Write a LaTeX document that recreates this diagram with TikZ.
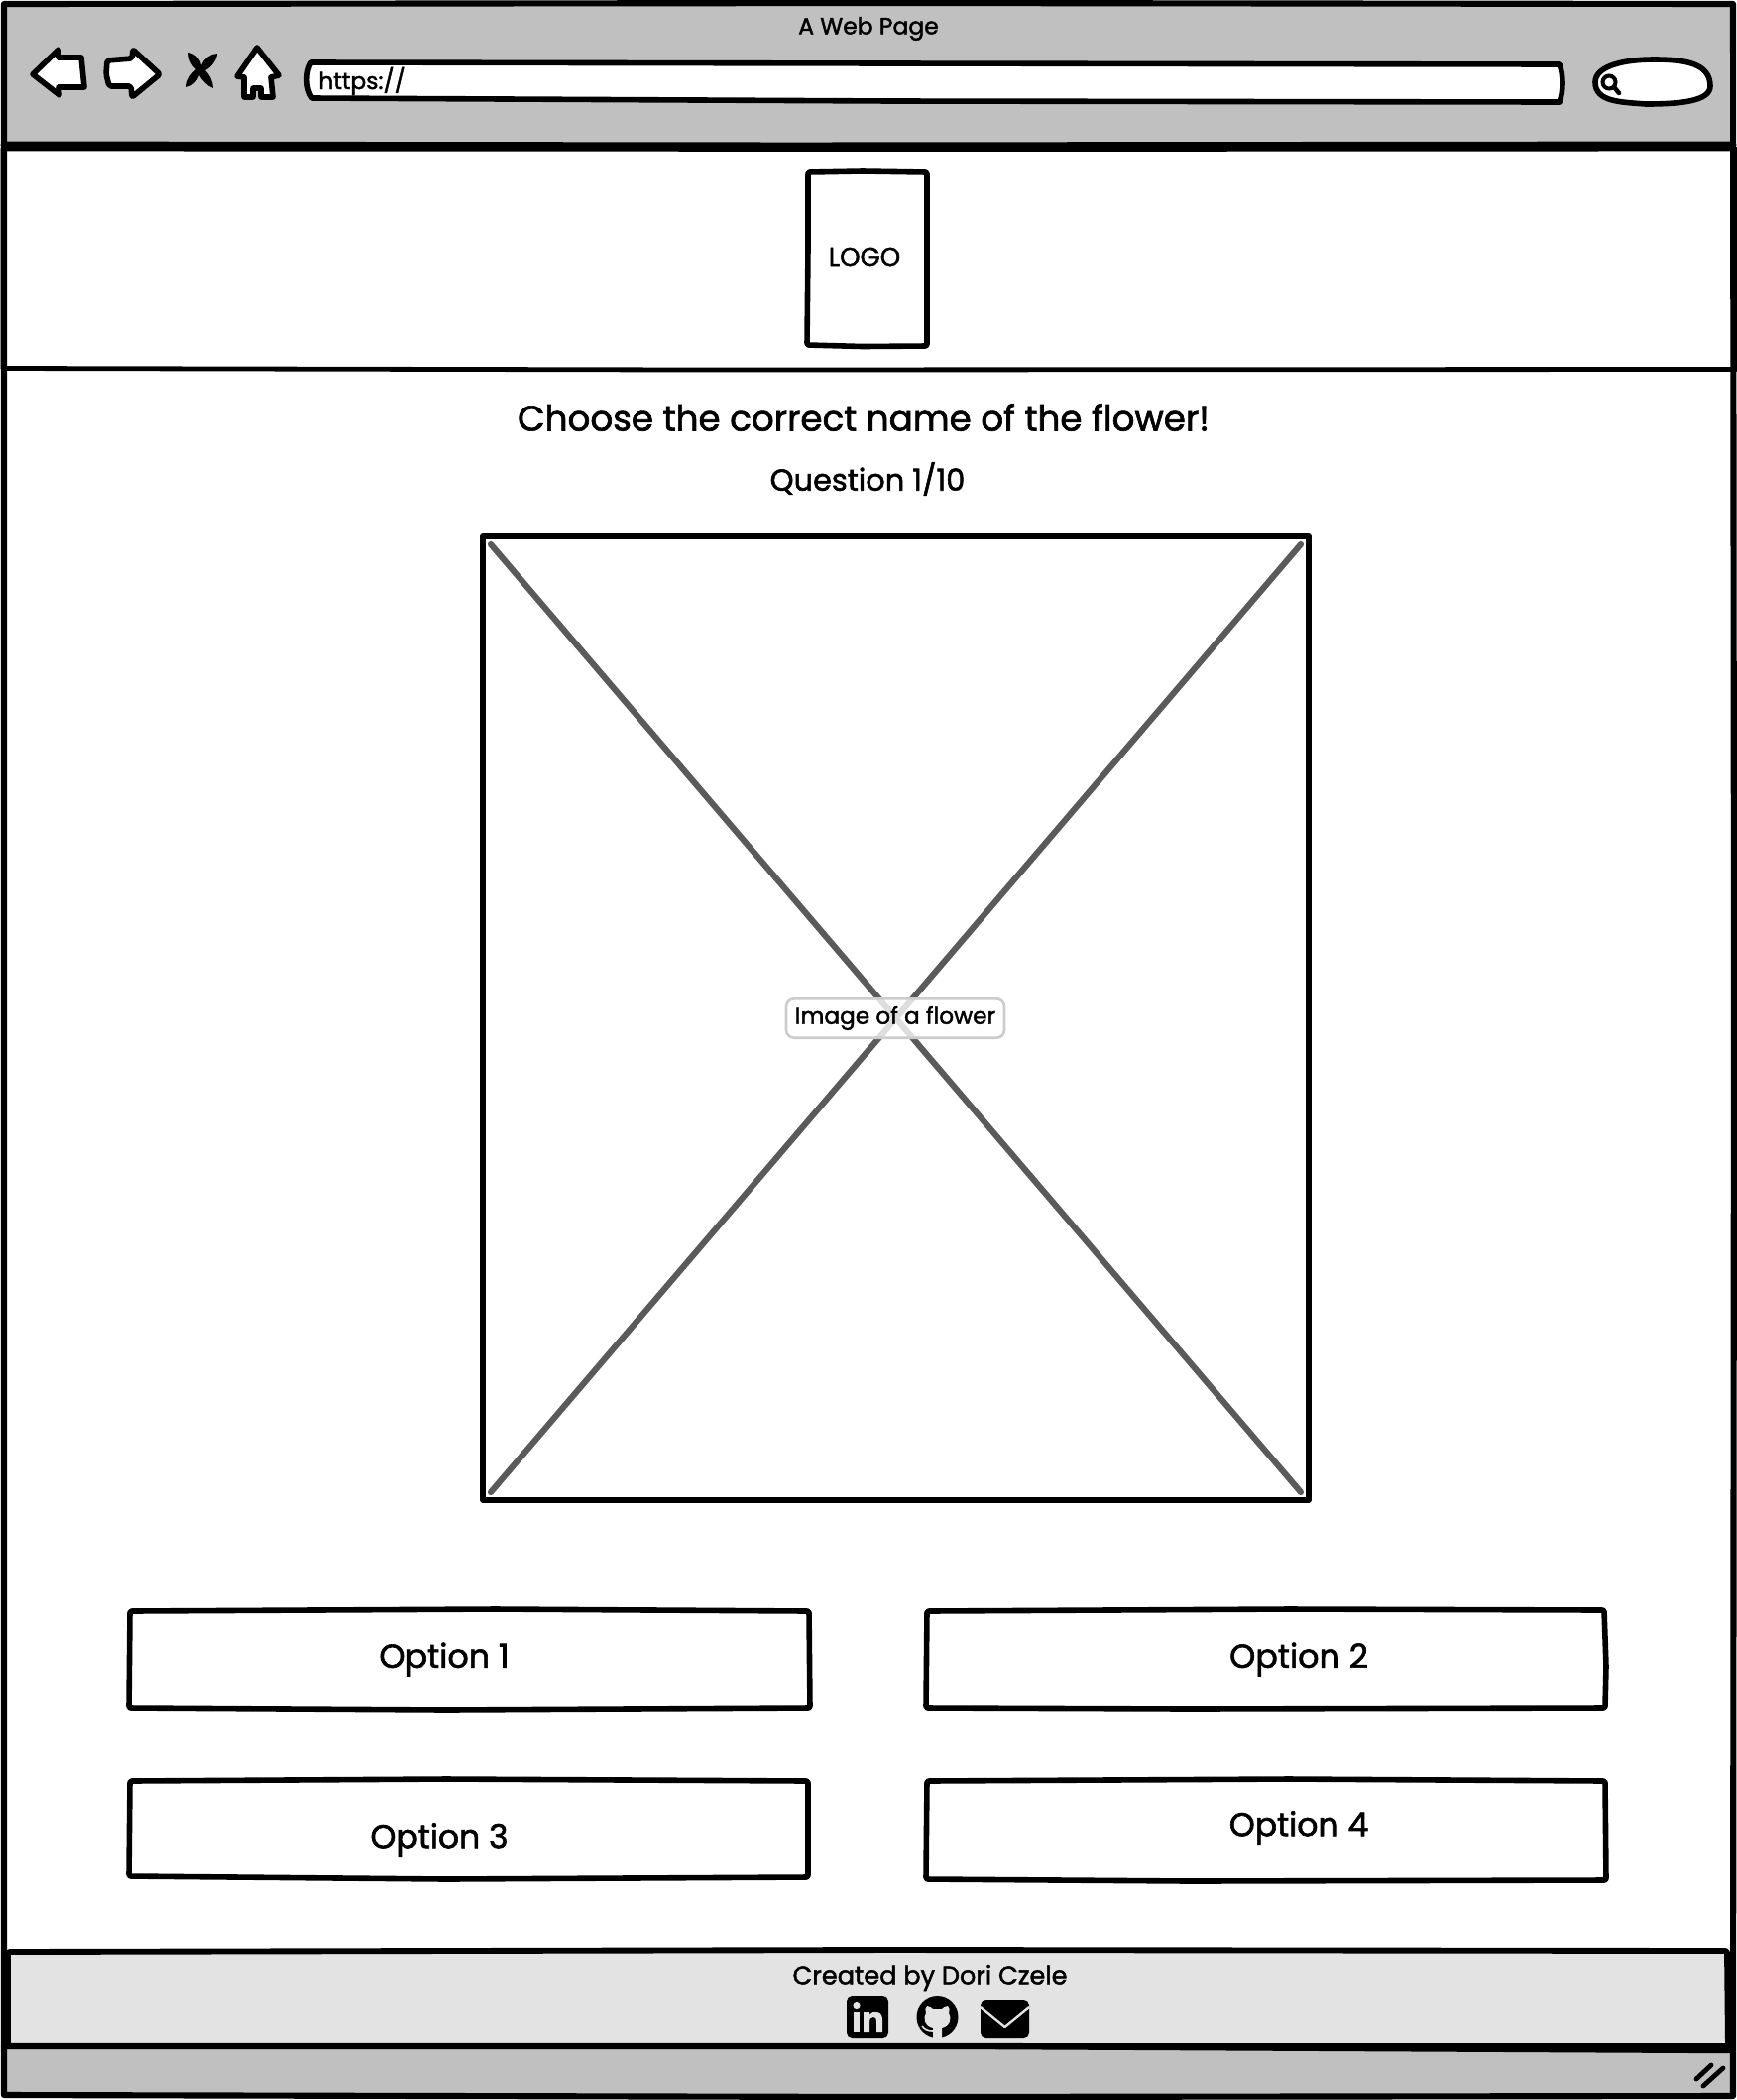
\documentclass[tikz,border=0pt]{standalone}
\usepackage{fontspec}
\setmainfont{Poppins}[RawFeature={embolden=1.8}]
\tikzset{
  x=0.75pt,y=-0.75pt,
  ink/.style={draw=black,line width=4.2pt,line join=round,line cap=round},
  lbl/.style={inner sep=0pt,text=black,font=\fontsize{#1}{#1}\selectfont},
}
\definecolor{barGray}{HTML}{C0C0C0}
\definecolor{footGray}{HTML}{E3E3E3}
\definecolor{crossGray}{HTML}{5A5A5A}
\begin{document}
\begin{tikzpicture}
\useasboundingbox (0,0) rectangle (1752,2118);
\fill[white] (0,0) rectangle (1752,2118);
% top bar and bottom bar
\fill[barGray] (4,4) rectangle (1748,148);
\fill[barGray] (4,2063) rectangle (1748,2114);
% outer frame
\draw[ink,line width=4.6pt] (4,4) -- (900,3) -- (1748,4) -- (1749,1000) -- (1748,2114) -- (900,2115) -- (4,2113) -- (4,1000) -- cycle;
\draw[ink,line width=5.2pt] (4,146) -- (800,147) -- (1748,146);
% header
\draw[ink,line width=3.6pt] (3,150) -- (1000,150.5) -- (1750,150) -- (1751,372.5) -- (700,373) -- (3,371.5) -- cycle;
% logo
\draw[ink,rounded corners=1.5pt] (815,173) -- (870,172) -- (935,173) -- (935,300) -- (935,349) -- (870,349.5) -- (814,348) -- (815,250) -- cycle;
\node[lbl=19.5] (logotext) at (872,259) {LOGO};
% titles
\node[lbl=26.8] (title) at (871,421) {Choose the correct name of the flower!};
\node[lbl=22.8] (question) at (875,483) {Question 1/10};
% image placeholder
\draw[ink,line width=4pt] (487,541) rectangle (1320,1513);
\draw[crossGray,line width=4.6pt,line cap=round] (495,549) -- (1312,1505);
\draw[crossGray,line width=4.6pt,line cap=round] (1312,549) -- (495,1505);
\node[draw=black!20,fill=white,fill opacity=0.8,text opacity=1,line width=2pt,rounded corners=6pt,minimum width=165pt,minimum height=29.5pt,inner sep=0pt,font=\fontsize{17.4}{17.4}\selectfont] (imagelabel) at (903,1027) {Image of a flower};
% options
\draw[ink,rounded corners=1.5pt,fill=white] (131,1625) -- (500,1623) -- (816,1625) -- (817,1723) -- (450,1725) -- (130,1723) -- cycle;
\draw[ink,rounded corners=1.5pt,fill=white] (935,1625) -- (1300,1623) -- (1618,1624) -- (1620,1680) -- (1619,1723) -- (1200,1724) -- (934,1723) -- cycle;
\draw[ink,rounded corners=1.5pt,fill=white] (131,1796) -- (450,1794) -- (815,1796) -- (815,1893) -- (450,1895) -- (130,1892) -- cycle;
\draw[ink,rounded corners=1.5pt,fill=white] (935,1796) -- (1300,1794) -- (1619,1796) -- (1620,1896) -- (1200,1897) -- (934,1895) -- cycle;
\node[lbl=25] (opt1) at (448,1673.5) {Option 1};
\node[lbl=25] (opt2) at (1310,1673.5) {Option 2};
\node[lbl=24.8] (opt3) at (443,1856) {Option 3};
\node[lbl=24.8] (opt4) at (1310,1844) {Option 4};
% footer
\draw[ink,fill=footGray,line width=4.4pt,rounded corners=1.5pt] (8,1969) -- (900,1967) -- (1742,1968) -- (1743,2064) -- (1000,2064) -- (8,2064) -- cycle;
\draw[ink,line width=4.8pt] (4,2064) -- (1000,2064) -- (1745,2068);
\node[lbl=19.2] (credit) at (938,1995) {Created by Dori Czele};
% linkedin icon
\fill[black,rounded corners=4pt] (854,2013) rectangle (896,2055);
\fill[footGray] (864,2022.5) circle (3.6);
\fill[footGray] (861,2029) rectangle (867,2049);
\path[fill=footGray] (871,2029) -- (877,2029) -- (877,2032) .. controls (879,2029) and (882,2028) .. (885,2029) .. controls (889,2030) and (890,2033) .. (890,2037) -- (890,2049) -- (884,2049) -- (884,2038) .. controls (884,2035) and (883,2034) .. (881,2034) .. controls (878,2034) and (877,2036) .. (877,2038) -- (877,2049) -- (871,2049) -- cycle;
% github icon
\fill[black] (945.5,2034) circle (21);
\path[fill=footGray] (934,2030) .. controls (933,2027) and (933,2025) .. (935,2023) .. controls (938,2023) and (940,2025) .. (941,2026) -- (950,2026) .. controls (951,2025) and (953,2023) .. (956,2023) .. controls (958,2025) and (958,2027) .. (957,2030) .. controls (960,2034) and (959,2043) .. (950,2045) -- (950,2055) -- (941,2055) -- (941,2045) .. controls (932,2043) and (931,2034) .. (934,2030) -- cycle;
\draw[footGray,line width=1.2pt] (930,2043) .. controls (933,2047) and (936,2048) .. (941,2048);
% mail icon
\fill[black,rounded corners=4pt] (989,2017) rectangle (1038,2055);
\draw[footGray,line width=1.8pt,line join=round] (989,2024) -- (1013.5,2044) -- (1038,2024);
% resize grip
\draw[black,line width=3.6pt,line cap=round] (1711,2097) -- (1726,2083);
\draw[black,line width=3.6pt,line cap=round] (1718,2104) -- (1738,2086);
% browser chrome
\node[lbl=17.6] (pagetitle) at (876,29) {A Web Page};
\draw[ink,fill=white] (33,75) -- (59,50) -- (59,58) -- (82,58) -- (85,88) -- (59,88) -- (60,96) -- cycle;
\draw[ink,fill=white,rounded corners=1.5pt] (108,61) -- (133,59) -- (134,50) -- (161,75) -- (133,98) -- (132,87) -- (110,87) -- (107,75) -- cycle;
\path[fill=black] (190,53) .. controls (198,54) and (203,62) .. (203,66) .. controls (205,60) and (212,54) .. (219,54) .. controls (219,60) and (213,68) .. (207,71) .. controls (211,75) and (215,82) .. (215,89) .. controls (209,87) and (203,80) .. (201,76) .. controls (199,82) and (194,87) .. (188,88) .. controls (188,80) and (193,74) .. (198,70) .. controls (193,66) and (190,60) .. (190,53) -- cycle;
\draw[ink,fill=white] (259,48) -- (281,76) -- (273,78) -- (275,98) -- (263,98) -- (263,89) -- (255,89) -- (255,98) -- (246,98) -- (246,78) -- (239,77) -- cycle;
\draw[ink,fill=white] (314,63) -- (900,64) -- (1573,65) .. controls (1577,76) and (1577,92) .. (1573,103) -- (900,102) -- (315,99) .. controls (308,90) and (308,72) .. (314,63) -- cycle;
\node[lbl=17.6,anchor=west] (urltext) at (321,82) {https://};
\draw[ink,fill=white] (1609,83) .. controls (1609,66) and (1640,60) .. (1668,60) .. controls (1700,60) and (1725,64) .. (1725,87) .. controls (1725,102) and (1695,105) .. (1660,105) .. controls (1635,103) and (1609,103) .. (1609,83) -- cycle;
\draw[black,line width=3pt] (1623,83) circle (6.5);
\draw[black,line width=3.4pt,line cap=round] (1628,88) -- (1633,94);
\end{tikzpicture}
\end{document}
